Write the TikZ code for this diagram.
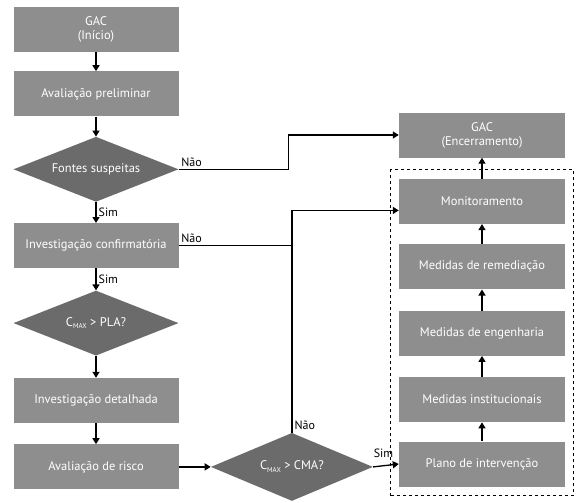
\documentclass[tikz,border=0pt]{standalone}
\usepackage{fontspec}
\setmainfont{PT Sans}
\usetikzlibrary{arrows.meta,positioning,shapes.geometric,fit}
\definecolor{boxgray}{HTML}{8E8E8E}
\definecolor{decgray}{HTML}{6B6B6B}
\newcommand{\cmax}{C\raisebox{-0.45ex}{\fontsize{7}{7}\selectfont MAX}}

\begin{document}
\begin{tikzpicture}[x=1pt, y=-1pt,
      box/.style={
        fill=boxgray, text=white, inner sep=0pt,
        minimum height=45pt, minimum width=165pt,
        align=center, font=\fontsize{12.5}{14}\selectfont
      },
      decision/.style={
        diamond, aspect=2.6, fill=decgray, text=white, inner sep=0pt,
        minimum height=65pt, minimum width=165pt,
        align=center, font=\fontsize{12.5}{14}\selectfont
      },
      lbl/.style={font=\fontsize{12}{14}\selectfont, inner sep=2pt},
      arrow/.style={-{Triangle[length=6pt,width=7pt]}, line width=1.3pt},
      line/.style={line width=1.3pt}
    ]
      \useasboundingbox (0,0) rectangle (584,503);

      % left column
      \node[box] (ini) at (96,29.5) {GAC\\(Início)};
      \node[box, below=19pt of ini] (prel) {Avaliação preliminar};
      \node[decision, below=20pt of prel] (fontes) {Fontes suspeitas};
      \node[box, below=21pt of fontes] (conf) {Investigação confirmatória};
      \node[decision, below=22pt of conf] (pla) {\cmax{} > PLA?};
      \node[box, below=22pt of pla] (det) {Investigação detalhada};
      \node[box, below=21pt of det] (risco) {Avaliação de risco};
      \node[decision, right=32pt of risco, minimum width=162pt, minimum height=68pt] (cma) {\cmax{} > CMA?};

      % right column
      \node[box, minimum width=166pt] (enc) at (482,135) {GAC\\(Encerramento)};
      \node[box, minimum width=166pt, below=21pt of enc] (mon) {Monitoramento};
      \node[box, minimum width=166pt, below=20pt of mon] (rem) {Medidas de remediação};
      \node[box, minimum width=166pt, below=21pt of rem] (eng) {Medidas de engenharia};
      \node[box, minimum width=166pt, below=21pt of eng] (inst) {Medidas institucionais};
      \node[box, minimum width=166pt, below=19pt of inst] (plano) {Plano de intervenção};
      \node[draw, dashed, line width=1pt, inner xsep=8pt, inner ysep=9pt, fit=(mon)(plano)] (grp) {};

      % connectors
      \draw[arrow] (ini) -- (prel);
      \draw[arrow] (prel) -- (fontes);
      \draw[arrow] (fontes) -- node[lbl, right] {Sim} (conf);
      \draw[arrow] (conf) -- node[lbl, right] {Sim} (pla);
      \draw[arrow] (pla) -- (det);
      \draw[arrow] (det) -- (risco);
      \draw[arrow] (risco) -- (cma);
      \draw[arrow] (fontes.east) -- node[lbl, pos=0, above right] {Não} ++(110,0) |- (enc.west);
      \draw[line] (conf.east) -- node[lbl, pos=0, above right] {Não} (conf.east -| cma.north);
      \draw[arrow] (cma.north) node[lbl, above right] {Não} |- ([yshift=-9pt]mon.west);
      \draw[arrow] (cma.east) -- node[lbl, pos=0, anchor=south west, xshift=-2pt, yshift=7pt] {Sim} (plano.west);
      \draw[arrow] (plano) -- (inst);
      \draw[arrow] (inst) -- (eng);
      \draw[arrow] (eng) -- (rem);
      \draw[arrow] (rem) -- (mon);
      \draw[arrow] (mon) -- (enc);
    \end{tikzpicture}
\end{document}
